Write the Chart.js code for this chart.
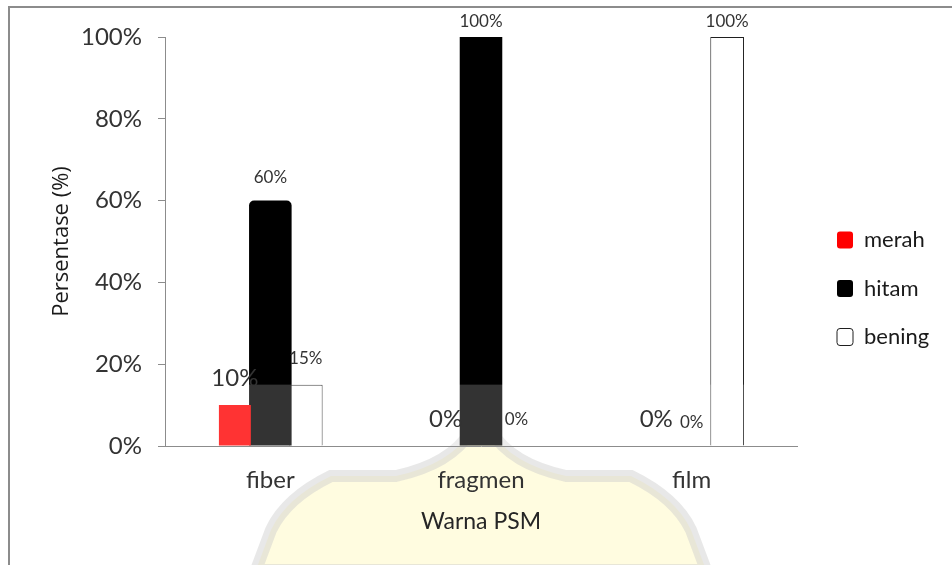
<!DOCTYPE html>
<html><head><meta charset="utf-8">
<script src="https://cdn.jsdelivr.net/npm/chart.js@4.4.1/dist/chart.umd.min.js"></script>
<style>html,body{margin:0;padding:0;background:#fff}canvas{display:block}</style>
</head><body>
<canvas id="c" width="952" height="565"></canvas>
<script>
const categories = ['fiber', 'fragmen', 'film'];
const seriesNames = ['merah', 'hitam', 'bening'];
const merah = [10, 0, 0];
const hitam = [60, 100, 0];
const bening = [15, 0, 100];
const yTicks = [0, 20, 40, 60, 80, 100];
const yTitle = 'Persentase (%)';
const xTitle = 'Warna PSM';

const FAM = "Lato, 'Open Sans', sans-serif";
const TXT = '#333333';
const AXIS = '#8c8c8c';

const backgroundPlugin = {
  id: 'bgframe',
  beforeDraw(chart) {
    const ctx = chart.ctx;
    ctx.save();
    ctx.fillStyle = '#fff';
    ctx.fillRect(0, 0, chart.width, chart.height);
    // faint watermark logo below the axis
    const ca = chart.chartArea;
    const cx = (ca.left + ca.right) / 2;
    const b = ca.bottom;
    ctx.beginPath();
    ctx.moveTo(cx - 225, 570);
    ctx.lineTo(cx - 210, b + 84);
    ctx.quadraticCurveTo(cx - 195, b + 52, cx - 150, b + 30);
    ctx.lineTo(cx - 85, b + 30);
    ctx.quadraticCurveTo(cx - 30, b + 18, cx - 10, b - 15);
    ctx.lineTo(cx, b - 48);
    ctx.lineTo(cx + 10, b - 15);
    ctx.quadraticCurveTo(cx + 30, b + 18, cx + 85, b + 30);
    ctx.lineTo(cx + 150, b + 30);
    ctx.quadraticCurveTo(cx + 195, b + 52, cx + 210, b + 84);
    ctx.lineTo(cx + 225, 570);
    ctx.closePath();
    ctx.fillStyle = '#fffce0';
    ctx.fill();
    ctx.lineWidth = 12;
    ctx.strokeStyle = 'rgba(205,205,205,0.45)';
    ctx.stroke();
    // outer frame
    ctx.lineWidth = 2;
    ctx.strokeStyle = AXIS;
    ctx.strokeRect(9, 7, 1000, 1000);
    ctx.restore();
  }
};

const legendPlace = {
  id: 'legendPlace',
  afterLayout(chart) {
    const lg = chart.legend;
    if (!lg) return;
    const pad = lg.options.labels.padding;
    const w = lg.width, h = lg.height;
    lg.left = 837 - pad; lg.right = lg.left + w;
    lg.top = 229 - pad; lg.bottom = lg.top + h;
  }
};

const labelSizes = [24, 17, 17];
const labelOffsets = [27, 23, 26];
const valueLabels = {
  id: 'valueLabels',
  afterDatasetsDraw(chart) {
    const ctx = chart.ctx;
    const ca = chart.chartArea;
    const yb = chart.scales.y.getPixelForValue(15);
    ctx.save();
    // watermark lightening band over lower bars
    ctx.fillStyle = 'rgba(255,255,255,0.2)';
    ctx.fillRect(ca.left + 1, yb, ca.right - ca.left - 1, ca.bottom - yb);
    ctx.textAlign = 'center';
    ctx.textBaseline = 'middle';
    ctx.fillStyle = TXT;
    chart.data.datasets.forEach((ds, di) => {
      const meta = chart.getDatasetMeta(di);
      ctx.font = labelSizes[di] + 'px ' + FAM;
      meta.data.forEach((el, i) => {
        const y = Math.max(el.y - labelOffsets[di], 22);
        ctx.fillText(ds.data[i] + '%', el.x, y);
      });
    });
    ctx.restore();
  }
};

new Chart(document.getElementById('c'), {
  type: 'bar',
  data: {
    labels: categories,
    datasets: [
      { label: seriesNames[0], data: merah, backgroundColor: '#ff0000', borderWidth: 0,
        barPercentage: 0.9, categoryPercentage: 0.505 },
      { label: seriesNames[1], data: hitam, backgroundColor: '#000000', borderWidth: 0,
        borderRadius: c => (c.dataIndex === 0 ? 5 : 0), borderSkipped: 'bottom',
        barPercentage: 1.2, categoryPercentage: 0.505 },
      { label: seriesNames[2], data: bening, backgroundColor: '#ffffff', borderColor: '#1f1f1f',
        borderWidth: 1, borderSkipped: 'bottom', barPercentage: 0.95, categoryPercentage: 0.505 }
    ]
  },
  options: {
    responsive: false,
    animation: false,
    devicePixelRatio: 1,
    layout: { padding: { left: 45, top: 37, bottom: 26, right: 35 } },
    plugins: {
      tooltip: { enabled: false },
      legend: {
        position: 'right',
        align: 'start',
        maxWidth: 120,
        labels: {
          boxWidth: 16, boxHeight: 17, padding: 26.5,
          font: { family: FAM, size: 22 }, color: '#1a1a1a',
          useBorderRadius: true, borderRadius: 3
        }
      }
    },
    scales: {
      x: {
        grid: { display: false, drawTicks: false },
        border: { display: true, color: AXIS, width: 1 },
        ticks: { font: { family: FAM, size: 24 }, color: TXT, padding: 20 },
        title: { display: true, text: xTitle, font: { family: FAM, size: 23 }, color: '#262626', padding: { top: 4, bottom: 4 } },
        afterFit: s => { s.height = 93; }
      },
      y: {
        min: 0, max: 100,
        afterBuildTicks: s => { s.ticks = yTicks.map(v => ({ value: v })); },
        ticks: { callback: v => v + '%', font: { family: FAM, size: 24 }, color: TXT, padding: 16 },
        grid: { drawOnChartArea: false, drawTicks: true, tickLength: 7, color: AXIS },
        border: { display: true, color: AXIS, width: 1 },
        title: { display: true, text: yTitle, font: { family: "'Open Sans', sans-serif", size: 22 }, color: '#1a1a1a', padding: { top: 4, bottom: 4 } },
        afterFit: s => { s.width = 120; }
      }
    }
  },
  plugins: [backgroundPlugin, legendPlace, valueLabels]
});
</script>
</body></html>
